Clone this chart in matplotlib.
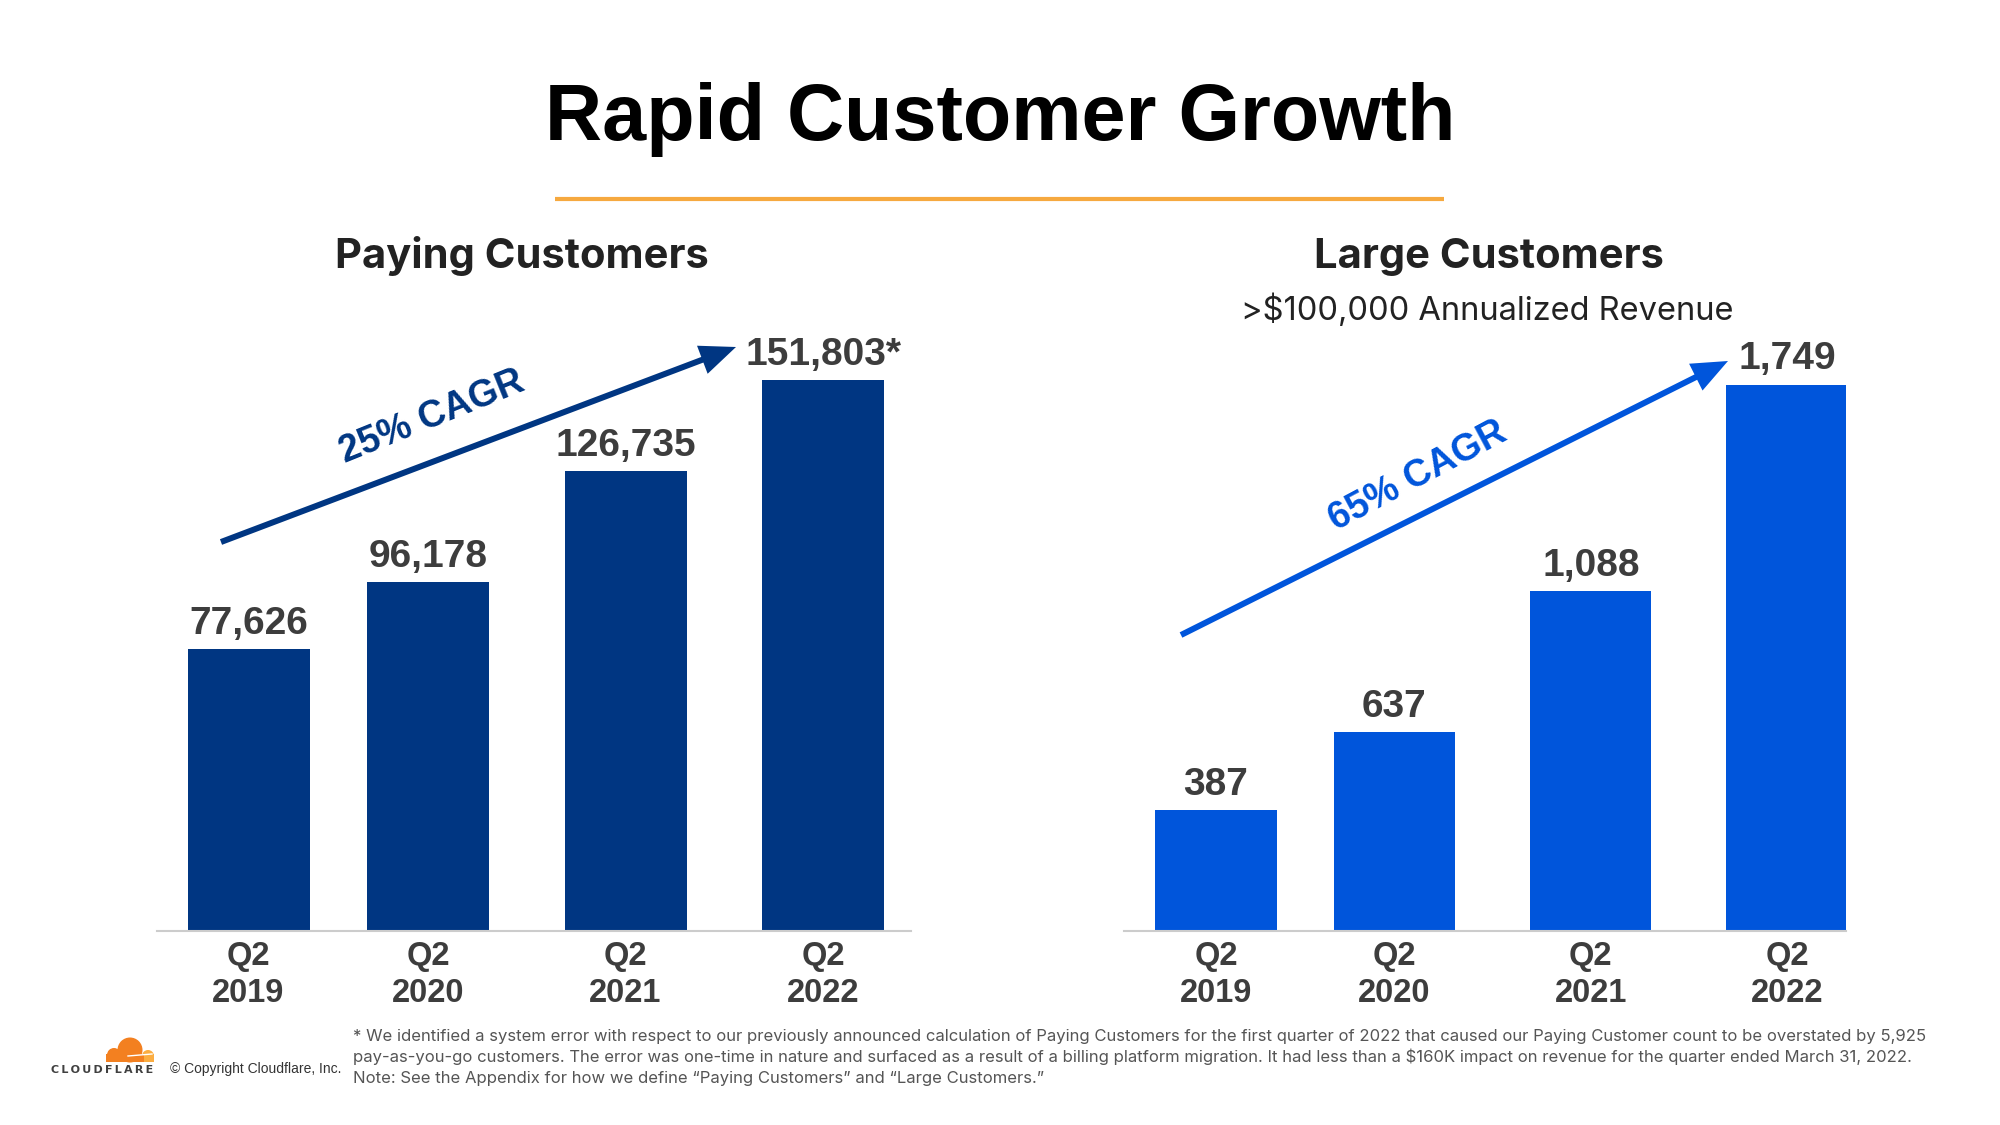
import matplotlib.pyplot as plt
from matplotlib.patches import Circle, Rectangle

# data
quarters = ["Q2\n2019", "Q2\n2020", "Q2\n2021", "Q2\n2022"]
paying = [77626, 96178, 126735, 151803]
paying_labels = ["77,626", "96,178", "126,735", "151,803*"]
large = [387, 637, 1088, 1749]
large_labels = ["387", "637", "1,088", "1,749"]

NAVY = "#003682"
BLUE = "#0055DB"
GREY_TXT = "#3d3d3d"
ORANGE = "#F6A93F"
ARIAL = "Liberation Sans"

# bar slots (the slide spaces them a little unevenly)
x_pos = [0, 1, 2.1, 3.2]

fig = plt.figure(figsize=(20, 11.25), dpi=100)
fig.patch.set_facecolor("white")


def bar_panel(rect, values, labels, color, xlim, ymax):
    ax = fig.add_axes(rect)
    ax.bar(x_pos, values, width=0.68, color=color, zorder=2)
    for x, v, lab in zip(x_pos, values, labels):
        ax.annotate(lab, (x, v), xytext=(0, 11), textcoords="offset points",
                    ha="center", va="baseline", fontsize=28, fontweight="bold",
                    color=GREY_TXT, family=ARIAL)
    ax.set_xlim(*xlim)
    ax.set_ylim(0, ymax)
    ax.set_xticks(x_pos)
    ax.set_xticklabels(quarters, fontsize=23.5, fontweight="bold", color=GREY_TXT,
                       family=ARIAL, linespacing=1.25)
    ax.tick_params(axis="x", length=0, pad=7)
    ax.set_yticks([])
    for s in ["top", "right", "left"]:
        ax.spines[s].set_visible(False)
    ax.spines["bottom"].set_color("#cccccc")
    ax.spines["bottom"].set_linewidth(1.5)
    ax.patch.set_alpha(0)
    return ax


bar_panel([157 / 2000, 1 - 931 / 1125, 754 / 2000, 631 / 1125],
          paying, paying_labels, NAVY, (-0.51, 3.69), 174000)
bar_panel([1124 / 2000, 1 - 931 / 1125, 722 / 2000, 631 / 1125],
          large, large_labels, BLUE, (-0.515, 3.53), 2020)

# overlay in pixel coords for the slide furniture
ov = fig.add_axes([0, 0, 1, 1])
ov.set_xlim(0, 2000)
ov.set_ylim(1125, 0)
ov.axis("off")

ov.text(1000, 140, "Rapid Customer Growth", ha="center", va="baseline",
        fontsize=57, fontweight="bold", family=ARIAL, color="black")
ov.plot([555, 1444], [199, 199], color=ORANGE, lw=3, solid_capstyle="butt")

ov.text(522, 268, "Paying Customers", ha="center", va="baseline",
        fontsize=30, fontweight="bold", family="Inter", color="#222222")
ov.text(1489, 268, "Large Customers", ha="center", va="baseline",
        fontsize=30, fontweight="bold", family="Inter", color="#222222")
ov.text(1487, 320, ">$100,000 Annualized Revenue", ha="center", va="baseline",
        fontsize=23.5, family="Inter", color="#222222")

# CAGR arrows
ov.arrow(221, 542, 736 - 221, 347 - 542, width=6, head_width=30, head_length=36,
         length_includes_head=True, color=NAVY, lw=0)
ov.text(432, 417, "25% CAGR", ha="center", va="center", rotation=22,
        rotation_mode="anchor", fontsize=27, fontweight="bold", family=ARIAL, color=NAVY)
ov.arrow(1181, 635, 1728 - 1181, 361 - 635, width=6, head_width=30, head_length=36,
         length_includes_head=True, color=BLUE, lw=0)
ov.text(1418, 476, "65% CAGR", ha="center", va="center", rotation=28,
        rotation_mode="anchor", fontsize=27, fontweight="bold", family=ARIAL, color=BLUE)

# footer: logo
ov.add_patch(Circle((148, 1056), 6, color="#FBAD41", lw=0))
ov.add_patch(Rectangle((142, 1054), 12, 8, color="#FBAD41", lw=0))
ov.add_patch(Circle((130, 1050), 12.5, color="#F38020", lw=0))
ov.add_patch(Circle((114, 1055), 7, color="#F38020", lw=0))
ov.add_patch(Rectangle((106, 1054), 38, 8, color="#F38020", lw=0))
ov.plot([128, 152], [1056, 1054], color="white", lw=1)
ov.text(51, 1073, "\u2009".join("CLOUDFLARE"), ha="left", va="baseline", fontsize=8,
        fontweight="bold", family="DejaVu Sans", color="#404040")
ov.text(170, 1073, "\u00a9 Copyright Cloudflare, Inc.", ha="left", va="baseline",
        fontsize=10, family=ARIAL, color="#333333")

notes = [
    "* We identified a system error with respect to our previously announced calculation of Paying Customers "
    "for the first quarter of 2022 that caused our Paying Customer count to be overstated by 5,925",
    "pay-as-you-go customers. The error was one-time in nature and surfaced as a result of a billing platform "
    "migration. It had less than a $160K impact on revenue for the quarter ended March 31, 2022.",
    "Note: See the Appendix for how we define \u201cPaying Customers\u201d and \u201cLarge Customers.\u201d",
]
for i, line in enumerate(notes):
    ov.text(353, 1041 + 21 * i, line, ha="left", va="baseline", fontsize=12,
            family="Inter", color="#555555")

fig.savefig("out.png", dpi=100, facecolor="white")
